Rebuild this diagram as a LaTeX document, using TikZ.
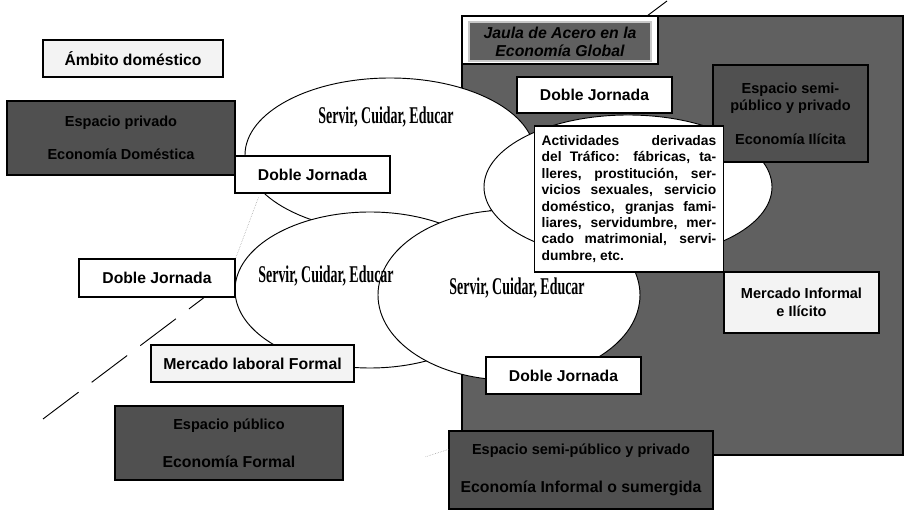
\documentclass[tikz,border=0pt]{standalone}
\usepackage{fontspec}
\usepackage{graphicx}
\setmainfont{Liberation Sans}
\newfontfamily\servirfont{Liberation Serif}
\definecolor{cagegray}{RGB}{96,96,96}
\definecolor{spacegray}{RGB}{80,80,80}
\definecolor{marketgray}{RGB}{243,243,243}
\definecolor{framegray}{RGB}{200,200,200}
\tikzset{
  boxline/.style={draw=black,line width=0.035cm,inner sep=0pt,align=center},
  whitebox/.style={boxline,fill=white,font=\bfseries\fontsize{13.4}{15.4}\selectfont},
  lightbox/.style={boxline,fill=marketgray,font=\bfseries\fontsize{13.4}{15.4}\selectfont},
  darkbox/.style={boxline,fill=spacegray,text=black,font=\bfseries\fontsize{12.4}{14.3}\selectfont},
  ovalline/.style={draw=black,line width=0.028cm,fill=white},
  servirtext/.style={anchor=base,inner sep=0pt,font=\servirfont\bfseries\fontsize{20.5}{24}\selectfont},
  faintlink/.style={draw=gray,line width=0.015cm,densely dotted}
}
\begin{document}
\begin{tikzpicture}
                \useasboundingbox (0,0) rectangle (27.120000,15.300000);
                
                % Drawing dashed border line
                \draw [line width=0.028cm,dash pattern=on 38pt off 14pt] (1.290000,2.730000) -- (6.900000,6.960000);%
                \draw [line width=0.028cm] (19.410000,14.820000) -- (20.010000,15.270000);%
                
                % Drawing the cage
                \draw [line width=0.035cm,fill=cagegray] (13.860000,1.650000) rectangle (27.090000,14.820000);%
                \draw [line width=0.035cm,fill=white] (13.860000,13.380000) rectangle (19.740000,14.820000);%
                \draw (16.800000,14.055000) node [boxline,draw=framegray,fill=cagegray,minimum width=5.46cm,minimum height=1.17cm,font=\bfseries\itshape\fontsize{13.5}{15.4}\selectfont] (jaula) {Jaula de Acero en la\\Economía Global};%
                
                % Drawing ellipses
                \draw [ovalline] (11.700000,10.650000) ellipse [x radius=4.35cm,y radius=2.31cm];%
                \draw [ovalline] (11.100000,6.600000) ellipse [x radius=4.05cm,y radius=2.34cm];%
                \draw [ovalline] (15.270000,6.450000) ellipse [x radius=3.93cm,y radius=2.55cm];%
                \draw [ovalline] (18.840000,9.690000) ellipse [x radius=4.32cm,y radius=2.16cm];%
                
                % Marking domestic side
                \draw (3.990000,13.545000) node [lightbox,minimum width=5.40cm,minimum height=1.11cm] (ambito) {Ámbito doméstico};%
                \draw (3.630000,11.160000) node [darkbox,minimum width=6.84cm,minimum height=2.22cm] (privado) {Espacio privado\\[14pt]Economía Doméstica};%
                \draw (9.375000,10.065000) node [whitebox,minimum width=4.65cm,minimum height=1.11cm] (djupper) {Doble Jornada};%
                \draw (4.710000,6.960000) node [whitebox,minimum width=4.68cm,minimum height=1.14cm] (djleft) {Doble Jornada};%
                
                % Marking public side
                \draw (7.575000,4.395000) node [lightbox,font=\bfseries\fontsize{13.5}{15.4}\selectfont,minimum width=6.09cm,minimum height=1.11cm] (mercformal) {Mercado laboral Formal};%
                \draw (6.870000,2.010000) node [darkbox,minimum width=6.84cm,minimum height=2.22cm] (publico) {Espacio público\\[18pt]{\fontsize{13.5}{15.4}\selectfont Economía Formal}};%
                
                % Marking global side
                \draw (17.835000,12.450000) node [whitebox,minimum width=4.65cm,minimum height=1.08cm] (djtop) {Doble Jornada};%
                \draw (23.715000,11.895000) node [darkbox,minimum width=4.65cm,minimum height=2.91cm] (ilicita) {Espacio semi-\\público y privado\\[14.7pt]Economía Ilícita};%
                \draw (18.870000,9.330000) node [boxline,fill=white,text width=149pt,inner xsep=6.5pt,align=justify,minimum height=4.38cm,font=\bfseries\fontsize{11.8}{14}\selectfont] (trafico) {Actividades derivadas\linebreak del Tráfico: fábricas, ta-\linebreak lleres, prostitución, ser-\linebreak vicios sexuales, servicio\linebreak doméstico, granjas fami-\linebreak liares, servidumbre, mer-\linebreak cado matrimonial, servi-\linebreak dumbre, etc.};%
                \draw (24.045000,6.225000) node [lightbox,font=\bfseries\fontsize{12.4}{15.4}\selectfont,minimum width=4.65cm,minimum height=1.83cm] (mercinf) {Mercado Informal\\e Ilícito};%
                \draw (16.905000,4.035000) node [whitebox,minimum width=4.65cm,minimum height=1.11cm] (djbottom) {Doble Jornada};%
                \draw (17.430000,1.200000) node [darkbox,minimum width=7.92cm,minimum height=2.34cm] (semi) {Espacio semi-público y privado\\[18pt]{\fontsize{13.5}{15.4}\selectfont Economía Informal o sumergida}};%
                
                % Marking ellipse texts
                \draw (11.580000,11.580000) node [servirtext] (servirup) {\scalebox{0.58}[1]{Servir, Cuidar, Educar}};%
                \draw (9.780000,6.810000) node [servirtext] (servirleft) {\scalebox{0.58}[1]{Servir, Cuidar, Educar}};%
                \draw (15.510000,6.450000) node [servirtext] (servirright) {\scalebox{0.58}[1]{Servir, Cuidar, Educar}};%
                
                % Drawing thin links
                \draw [faintlink] (djupper.south west) ++(0.72,-0.12) -- (djleft.north east);%
                \coordinate (loosend) at (12.750000,1.590000);
                \draw [faintlink] (semi.north west) ++(0,-0.57) -- (loosend);%
            \end{tikzpicture}
\end{document}
